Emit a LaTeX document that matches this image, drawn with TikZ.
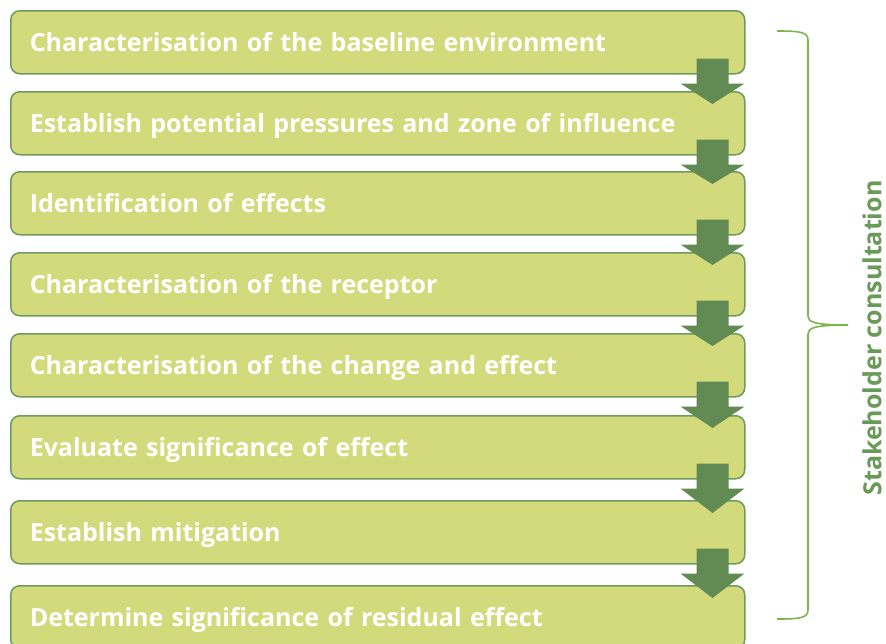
\documentclass[tikz,border=0pt]{standalone}
\usepackage{fontspec}
\setmainfont{Open Sans}
\usetikzlibrary{calc}
\definecolor{boxfill}{HTML}{D3DA7C}
\definecolor{boxline}{HTML}{6E9A5E}
\definecolor{arrowcol}{HTML}{618B53}
\definecolor{bracecol}{HTML}{7AB648}
\definecolor{sidetext}{HTML}{6A9A58}
\tikzset{
  stepbox/.style={draw=boxline, fill=boxfill, line width=1.5pt, rounded corners=9pt,
    anchor=north west, minimum width=734pt, minimum height=63pt, text width=696pt,
    inner xsep=19pt, align=left, text=white, text height=19pt, text depth=0pt,
    font=\fontsize{25}{29}\selectfont\bfseries},
  flowarrow/.style={fill=arrowcol},
  bracestyle/.style={draw=bracecol, line width=1.6pt},
  sidelabel/.style={text=sidetext, rotate=90, font=\fontsize{25}{29}\selectfont\bfseries}
}
\newcommand\flowarr[2]{%
  \fill[flowarrow] ($(#1.south east)+(-49,16)$) -- ++(32,0) -- ++(0,-25) -- ++(16,0)
    -- ($(#2.north east)+(-33,-13)$) -- ($(#1.south east)+(-65,-9)$)
    -- ($(#1.south east)+(-49,-9)$) -- cycle;}
\begin{document}
\begin{tikzpicture}[x=1pt,y=1pt]
\useasboundingbox (0,0) rectangle (886,-643);
\clip (0,0) rectangle (886,-643);
\node[stepbox] (b1) at (10,-10) {Characterisation of the baseline environment};
\node[stepbox] (b2) at (10,-91) {Establish potential pressures and zone of influence};
\node[stepbox] (b3) at (10,-171) {Identification of effects};
\node[stepbox] (b4) at (10,-252) {Characterisation of the receptor};
\node[stepbox] (b5) at (10,-333) {Characterisation of the change and effect};
\node[stepbox] (b6) at (10,-415) {Evaluate significance of effect};
\node[stepbox] (b7) at (10,-500) {Establish mitigation};
\node[stepbox] (b8) at (10,-585) {Determine significance of residual effect};
\flowarr{b1}{b2}
\flowarr{b2}{b3}
\flowarr{b3}{b4}
\flowarr{b4}{b5}
\flowarr{b5}{b6}
\flowarr{b6}{b7}
\flowarr{b7}{b8}
\draw[bracestyle] (777,-31) .. controls (800,-31) and (808,-32) .. (808,-40) -- (808,-316)
  .. controls (808,-322) and (814,-325) .. (848,-325)
  .. controls (814,-325) and (808,-328) .. (808,-334) -- (808,-610)
  .. controls (808,-618) and (800,-619) .. (777,-619);
\node[sidelabel] (side) at (872,-338) {Stakeholder consultation};
\end{tikzpicture}
\end{document}
